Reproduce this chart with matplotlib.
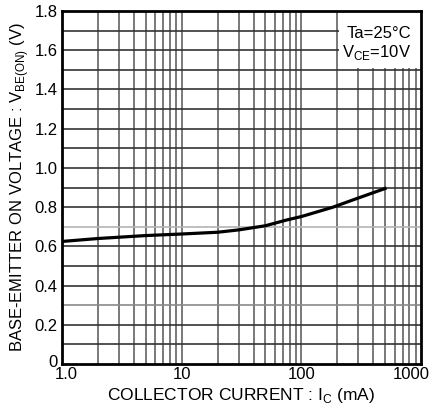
import matplotlib
matplotlib.use("Agg")
import matplotlib.pyplot as plt
import matplotlib.transforms as mtransforms
from matplotlib.patches import Rectangle
from matplotlib.ticker import FixedLocator, NullFormatter

plt.rcParams['font.family'] = ['Liberation Sans', 'DejaVu Sans']
plt.rcParams['mathtext.fontset'] = 'custom'
plt.rcParams['mathtext.rm'] = 'Liberation Sans'

# curve
ic_ma = [1, 2, 5, 10, 20, 30, 50, 76, 100, 184, 270, 500]
vbe_on = [0.625, 0.64, 0.655, 0.663, 0.672, 0.684, 0.705, 0.735, 0.752, 0.80, 0.837, 0.895]

x_major = [1, 10, 100, 1000]
x_labels = ["1.0", "10", "100", "1000"]
y_major = [0, 0.2, 0.4, 0.6, 0.8, 1.0, 1.2, 1.4, 1.6, 1.8]
y_labels = ["0", "0.2", "0.4", "0.6", "0.8", "1.0", "1.2", "1.4", "1.6", "1.8"]

fig = plt.figure(figsize=(4.35, 4.09), dpi=100)
ax = fig.add_axes([0.1425, 0.110, 0.8255, 0.863])

ax.set_xscale("log")
ax.set_xlim(1, 1000)
ax.set_ylim(0, 1.8)

# grid lines
x_minor = [m * d for d in (1, 10, 100) for m in range(2, 10)]
for xv in x_minor + x_major[1:-1]:
    ax.axvline(xv, color="#555555", lw=1.1, zorder=0.5)
for i in range(1, 18):
    yv = round(i / 10, 1)
    col = "#333333"
    if yv == 0.7:
        col = "#b4b4b4"
    elif yv == 0.3:
        col = "#8a8a8a"
    ax.axhline(yv, color=col, lw=1.2, zorder=0.6)

ax.plot(ic_ma, vbe_on, color="black", lw=2.3, zorder=3)

# condition box covering the grid
ax.add_patch(Rectangle((206, 1.51), 1000 - 206, 0.29, facecolor="white",
                       edgecolor="none", zorder=2))
ax.text(0.972, 0.937, "Ta=25°C", transform=ax.transAxes, ha="right",
        va="center", fontsize=12, zorder=4)
ax.text(0.972, 0.882, r"V$_{\mathrm{CE}}$=10V", transform=ax.transAxes,
        ha="right", va="center", fontsize=12, zorder=4)

ax.xaxis.set_major_locator(FixedLocator(x_major))
ax.xaxis.set_minor_locator(FixedLocator(x_minor))
ax.xaxis.set_minor_formatter(NullFormatter())
ax.set_xticklabels(x_labels)
ax.set_yticks(y_major)
ax.set_yticklabels(y_labels)
ax.tick_params(which="both", length=0, labelsize=12, pad=3)
ax.tick_params(axis="x", pad=2)

# nudge first and last x labels like the original
xl = ax.get_xticklabels()
xl[0].set_transform(xl[0].get_transform() + mtransforms.ScaledTranslation(4 / 100, 0, fig.dpi_scale_trans))
xl[-1].set_transform(xl[-1].get_transform() + mtransforms.ScaledTranslation(-10 / 100, 0, fig.dpi_scale_trans))
yl = ax.get_yticklabels()
yl[0].set_transform(yl[0].get_transform() + mtransforms.ScaledTranslation(0, 3 / 100, fig.dpi_scale_trans))

for s in ax.spines.values():
    s.set_linewidth(2.0)
    s.set_zorder(5)

ax.set_xlabel(r"COLLECTOR CURRENT : I$_{\mathrm{C}}$ (mA)", fontsize=12.5, labelpad=3)
ax.set_ylabel(r"BASE-EMITTER ON VOLTAGE : V$_{\mathrm{BE(ON)}}$ (V)", fontsize=12, labelpad=3)

fig.savefig("out.png", dpi=100)
